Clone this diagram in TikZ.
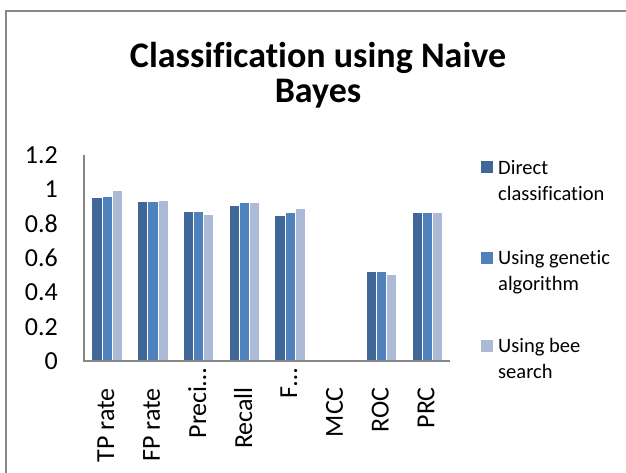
\documentclass[tikz,border=0pt]{standalone}
\usepackage{fontspec}
\setmainfont{Carlito}[Ligatures=NoCommon]
\definecolor{serdirect}{HTML}{3F6797}
\definecolor{sergenetic}{HTML}{4F81BD}
\definecolor{serbee}{HTML}{AABAD7}
\definecolor{chartgray}{HTML}{868686}
\begin{document}
\begin{tikzpicture}[x=1pt,y=-1pt]
     \tikzstyle{axisline}=[draw=chartgray,line width=1.4pt]
     \tikzstyle{barseam}=[draw=white,line width=0.4pt]
     \tikzstyle{titletext}=[font=\bfseries\fontsize{36}{36}\selectfont,anchor=base,inner sep=0pt]
     \tikzstyle{ticklabel}=[font=\fontsize{26}{26}\selectfont,anchor=east,inner sep=0pt]
     \tikzstyle{catlabel}=[font=\fontsize{26}{26}\selectfont,rotate=90,anchor=east,inner sep=0pt]
     \tikzstyle{swatch}=[minimum size=12pt,inner sep=0pt]
     \tikzstyle{legtext}=[font=\fontsize{20.5}{26}\selectfont,anchor=north west,inner sep=0pt,align=left]
     \useasboundingbox (0,0) rectangle (626,473);
     \fill[white] (0,0) rectangle (626,473);
     % chart area border
     \draw[chartgray,line width=2pt] (6,473) -- (6,11) -- (626,11);
     % title
     \node[titletext] (title) at (318,68) {Classification using Naive};
     \node[titletext] (titletail) at (318,103) {Bayes};
     % value axis labels
     \foreach \v in {0,0.2,0.4,0.6,0.8,1,1.2}
       \node[ticklabel] (tick\v) at (58,361-\v*171.67) {\v};
     % bars, three series per category
     \foreach \i/\a/\b/\c/\lab/\top in {0/0.952/0.960/0.997/TP rate/388,
                                       1/0.930/0.930/0.935/FP rate/388,
                                       2/0.872/0.872/0.858/Preci…/368,
                                       3/0.910/0.924/0.924/Recall/387,
                                       4/0.848/0.867/0.891/F…/368,
                                       5/0.011/0.011/0.011/MCC/387,
                                       6/0.522/0.522/0.505/ROC/387,
                                       7/0.866/0.866/0.866/PRC/387} {
       \pgfmathsetmacro\cx{84+45.75*(\i+0.5)}
       \filldraw[barseam,fill=serdirect] (\cx-15.3,361) rectangle (\cx-5.1,361-\a*171.67);
       \filldraw[barseam,fill=sergenetic] (\cx-5.1,361) rectangle (\cx+5.1,361-\b*171.67);
       \filldraw[barseam,fill=serbee] (\cx+5.1,361) rectangle (\cx+15.3,361-\c*171.67);
       \node[catlabel] (cat\i) at (\cx-1,\top) {\lab};
     }
     % axes
     \draw[axisline] (84,155) -- (84,361) -- (450,361);
     % legend
     \node[swatch,fill=serdirect] (keydirect) at (486.5,167) {};
     \node[legtext] (legdirect) at (498,160) {Direct\\classification};
     \node[swatch,fill=sergenetic] (keygenetic) at (486.5,257.5) {};
     \node[legtext] (leggenetic) at (498,250) {Using genetic\\algorithm};
     \node[swatch,fill=serbee] (keybee) at (486.5,345.5) {};
     \node[legtext] (legbee) at (498,338) {Using bee\\search};
\end{tikzpicture}
\end{document}
